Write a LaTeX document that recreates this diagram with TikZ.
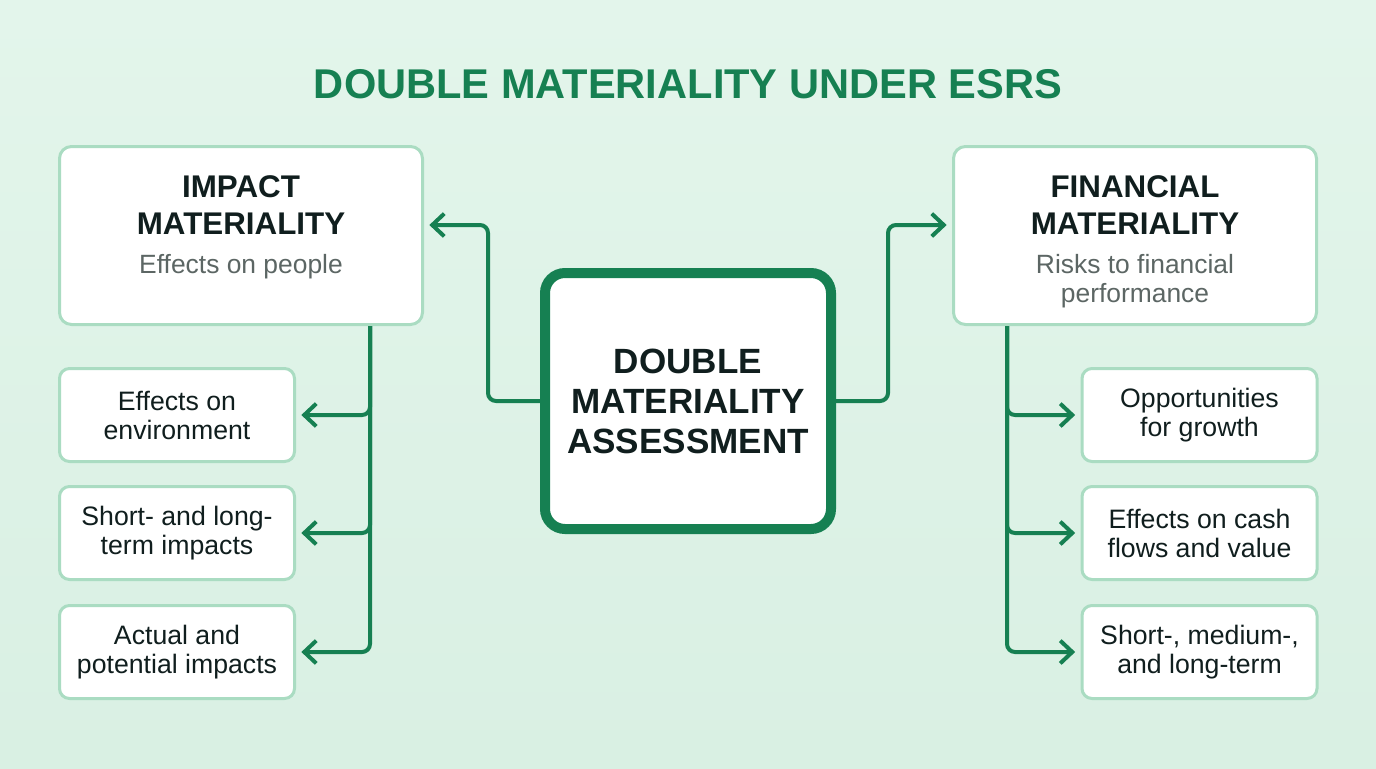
\documentclass[tikz,border=0pt]{standalone}
\usepackage{fontspec}
\setmainfont{Liberation Sans}
\usetikzlibrary{arrows.meta}
\definecolor{bgA}{RGB}{227,245,235}
\definecolor{bgB}{RGB}{217,240,227}
\definecolor{grn}{RGB}{22,128,82}
\definecolor{lite}{RGB}{170,220,194}
\definecolor{ink}{RGB}{16,30,30}
\definecolor{gry}{RGB}{92,102,100}
\begin{document}
\begin{tikzpicture}[x=0.75pt,y=-0.75pt,
  bigbox/.style={draw=lite, line width=2.25pt, fill=white, rounded corners=9pt,
    minimum width=272.25pt, minimum height=133.5pt, inner sep=0pt},
  smallbox/.style={draw=lite, line width=2.25pt, fill=white, rounded corners=7.5pt,
    minimum width=176.25pt, minimum height=69.75pt, inner sep=0pt, align=center,
    text=ink, font=\fontsize{20}{21.75}\selectfont},
  corebox/.style={draw=grn, line width=7.5pt, fill=white, rounded corners=15pt,
    minimum width=214.5pt, minimum height=192pt, inner sep=0pt, align=center,
    text=ink, font=\fontsize{26.3}{30}\selectfont\bfseries},
  headtext/.style={align=center, text=ink, inner sep=0pt,
    font=\fontsize{23.5}{27.75}\selectfont\bfseries},
  subtext/.style={align=center, text=gry, inner sep=0pt,
    font=\fontsize{19.8}{21.75}\selectfont},
  arr/.style={draw=grn, line width=3pt, rounded corners=6pt,
    -{Straight Barb[length=9pt,width=17pt]}, shorten >=4pt}
]
\fill[top color=bgA,bottom color=bgB] (0,0) rectangle (1376,768);
\useasboundingbox (0,0) rectangle (1376,768);

% title
\node[text=grn, inner sep=0pt, font=\fontsize{31.2}{36}\selectfont\bfseries] (title) at (688,84.5) {DOUBLE MATERIALITY UNDER ESRS};

% main boxes
\node[bigbox] (impact) at (241,235.5) {};
\node[headtext] (impactH) at (241,205) {IMPACT\\MATERIALITY};
\node[subtext] (impactS) at (241,267) {Effects on people};

\node[bigbox] (fin) at (1135,235.5) {};
\node[headtext] (finH) at (1135,205) {FINANCIAL\\MATERIALITY};
\node[subtext] (finS) at (1135,281.5) {Risks to financial\\performance};

\node[corebox] (dma) at (688,401) {DOUBLE\\MATERIALITY\\ASSESSMENT};

% left small boxes
\node[smallbox] (l1) at (177,415) {Effects on\\environment};
\node[smallbox] (l2) at (177,533) {Short- and long-\\term impacts};
\node[smallbox] (l3) at (177,652) {Actual and\\potential impacts};

% right small boxes
\node[smallbox] (r1) at (1199.5,415) {Opportunities\\for growth};
\node[smallbox] (r2) at (1199.5,533) {Effects on cash\\flows and value};
\node[smallbox] (r3) at (1199.5,652) {Short-, medium-,\\and long-term};

% junction coordinates
\coordinate (jL) at (488,225);
\coordinate (jR) at (888,225);
\coordinate (tL) at (370,0);
\coordinate (tR) at (1007,0);

% connectors from center
\draw[arr] (dma.west) -| (jL) -- (jL -| impact.east);
\draw[arr] (dma.east) -| (jR) -- (jR -| fin.west);

% left tree
\draw[arr] (impact.south -| tL) |- (l1.east);
\draw[arr] (impact.south -| tL) |- (l2.east);
\draw[arr] (impact.south -| tL) |- (l3.east);

% right tree
\draw[arr] (fin.south -| tR) |- (r1.west);
\draw[arr] (fin.south -| tR) |- (r2.west);
\draw[arr] (fin.south -| tR) |- (r3.west);
\end{tikzpicture}
\end{document}
